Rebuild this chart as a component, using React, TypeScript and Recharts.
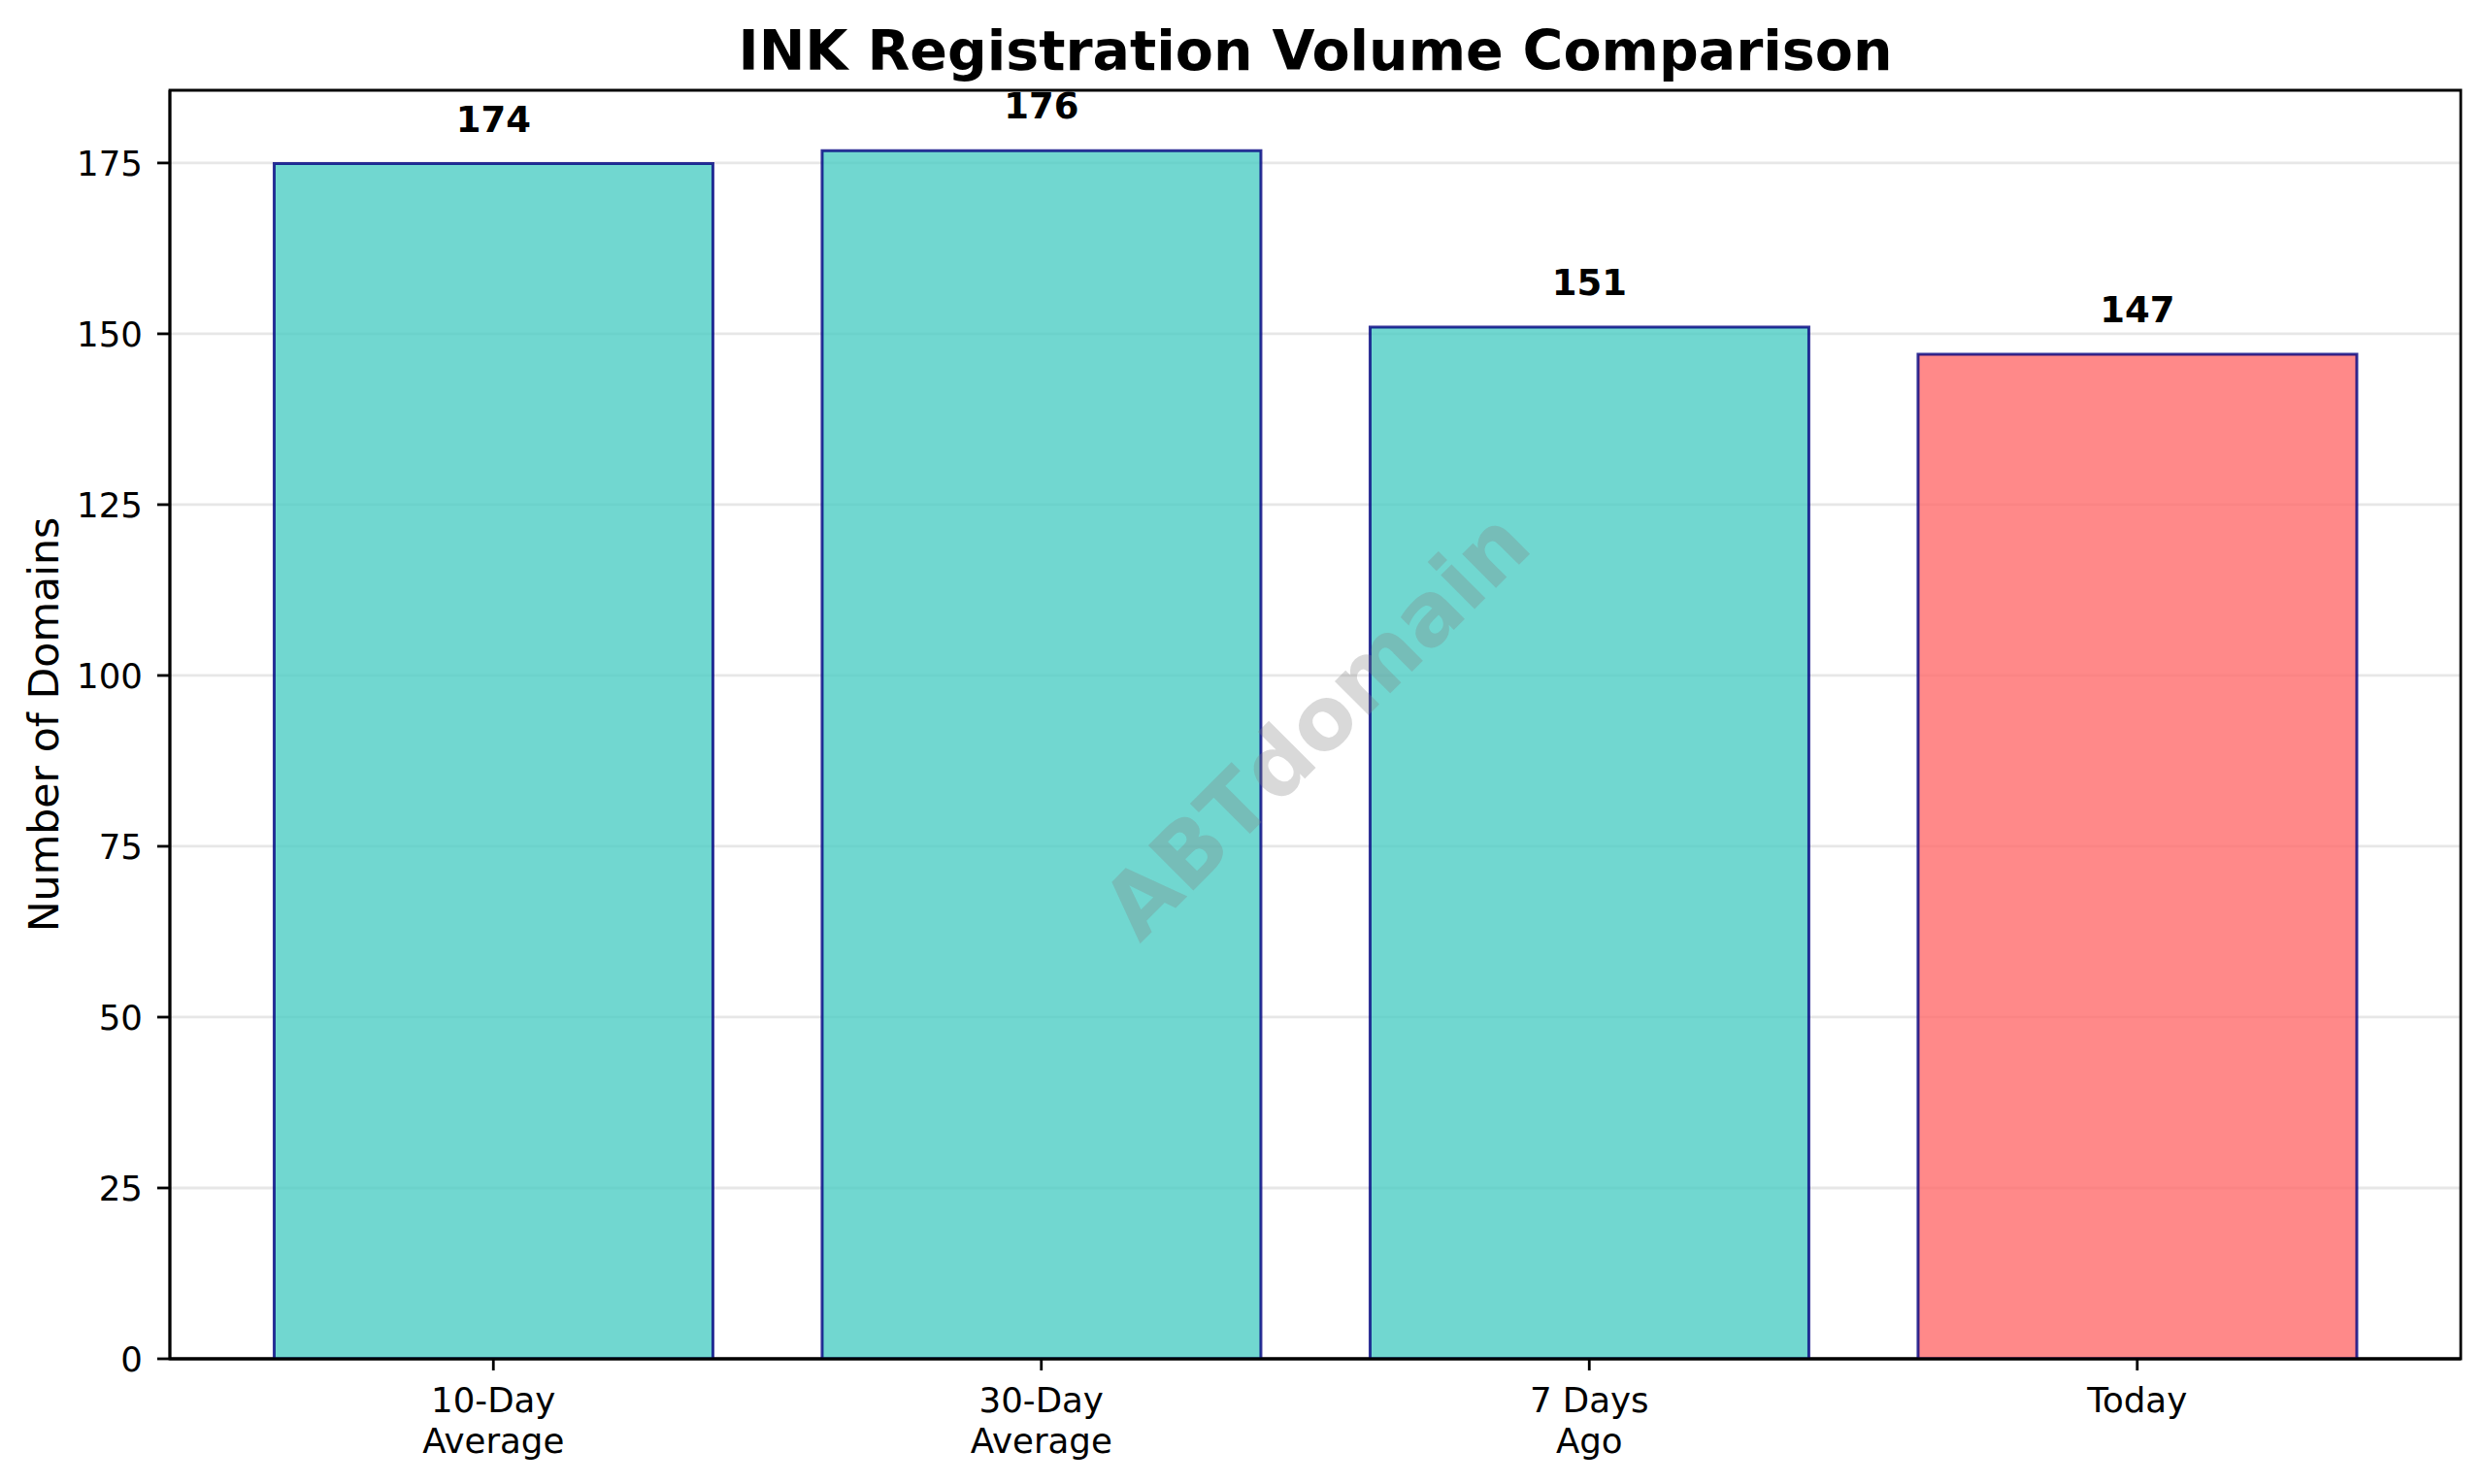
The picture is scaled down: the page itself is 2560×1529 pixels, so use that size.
import { BarChart, Bar, Cell, XAxis, YAxis, CartesianGrid, LabelList, Label, ReferenceArea } from 'recharts';

const categories = ['10-Day\nAverage', '30-Day\nAverage', '7 Days\nAgo', 'Today'];
const volumes = [174.9, 176.8, 151, 147];
const yTicks = [0, 25, 50, 75, 100, 125, 150, 175];
const barColors = ['#4ECDC4', '#4ECDC4', '#4ECDC4', '#FF6B6B'];

const data = categories.map((name, i) => ({ name, value: volumes[i] }));
// matplotlib-style 5% headroom above the tallest bar
const yMax = Math.max(...volumes) * 1.05;
const lastIndex = data.length - 1;

const FONT = '"DejaVu Sans", sans-serif';

// two-line category labels, like matplotlib's "\n"
const XTick = (props: any) => {
  const { x, y, payload } = props;
  const lines = String(payload.value).split('\n');
  return (
    <text x={x} y={y} textAnchor="middle" fontSize={35.6} fontFamily={FONT} fill="#000">
      {lines.map((l, i) => (
        <tspan key={i} x={x} dy={i === 0 ? 31 : 41.5}>
          {l}
        </tspan>
      ))}
    </text>
  );
};

const valueLabel = (props: any) => {
  const { x, y, width, value } = props;
  return (
    <text
      x={x + width / 2}
      y={y - 33}
      textAnchor="middle"
      fontSize={37}
      fontWeight="bold"
      fontFamily={FONT}
      fill="#000"
    >
      {Math.floor(value)}
    </text>
  );
};

const yTitle = (props: any) => {
  const { viewBox } = props;
  const cy = viewBox.y + viewBox.height / 2;
  return (
    <text
      x={45}
      y={cy}
      transform={`rotate(-90, 45, ${cy})`}
      textAnchor="middle"
      dominantBaseline="central"
      fontSize={42.7}
      fontFamily={FONT}
      fill="#000"
    >
      Number of Domains
    </text>
  );
};

const App = () => {
  return (
    <div style={{ position: 'absolute', left: 0, top: 0, width: 2560, height: 1529, background: '#fff', fontFamily: FONT }}>
      <BarChart
        width={2560}
        height={1529}
        data={data}
        margin={{ top: 93, right: 25, bottom: 0, left: 0 }}
        barCategoryGap="10%"
      >
        <CartesianGrid vertical={false} horizontalValues={yTicks} stroke="#b0b0b0" strokeOpacity={0.3} strokeWidth={2.8} />
        <XAxis
          dataKey="name"
          height={129}
          padding={{ left: 51, right: 51 }}
          tick={<XTick />}
          tickSize={12}
          tickMargin={12}
          interval={0}
          axisLine={{ stroke: '#000', strokeWidth: 2.8 }}
          tickLine={{ stroke: '#000', strokeWidth: 2.8 }}
        />
        {/* hidden index axis spanning the whole plot, used for the frame */}
        <XAxis xAxisId="frame" type="number" domain={[0, lastIndex]} allowDataOverflow hide />
        <YAxis
          width={175}
          domain={[0, yMax]}
          ticks={yTicks}
          allowDataOverflow
          tickSize={13}
          tickMargin={15}
          tick={{ fontSize: 35.6, fontFamily: FONT, fill: '#000' }}
          axisLine={{ stroke: '#000', strokeWidth: 2.8 }}
          tickLine={{ stroke: '#000', strokeWidth: 2.8 }}
        >
          <Label content={yTitle} />
        </YAxis>
        <Bar
          dataKey="value"
          isAnimationActive={false}
          fillOpacity={0.8}
          stroke="navy"
          strokeOpacity={0.8}
          strokeWidth={3}
        >
          {data.map((d, i) => (
            <Cell key={d.name} fill={barColors[i]} />
          ))}
          <LabelList dataKey="value" content={valueLabel} />
        </Bar>
        {/* axes frame, title and watermark */}
        <ReferenceArea
          xAxisId="frame"
          x1={0}
          x2={lastIndex}
          y1={0}
          y2={yMax}
          fill="none"
          fillOpacity={0}
          stroke="#000"
          strokeWidth={2.8}
          ifOverflow="visible"
        >
          <Label
            value="INK Registration Volume Comparison"
            position="top"
            offset={21}
            fontSize={57}
            fontWeight="bold"
            fontFamily={FONT}
            fill="#000"
          />
          <Label
            value="ABTdomain"
            position="center"
            angle={-45}
            fontSize={90}
            fontWeight="bold"
            fontFamily={FONT}
            fill="#808080"
            fillOpacity={0.3}
          />
        </ReferenceArea>
      </BarChart>
    </div>
  );
};

export default App;
